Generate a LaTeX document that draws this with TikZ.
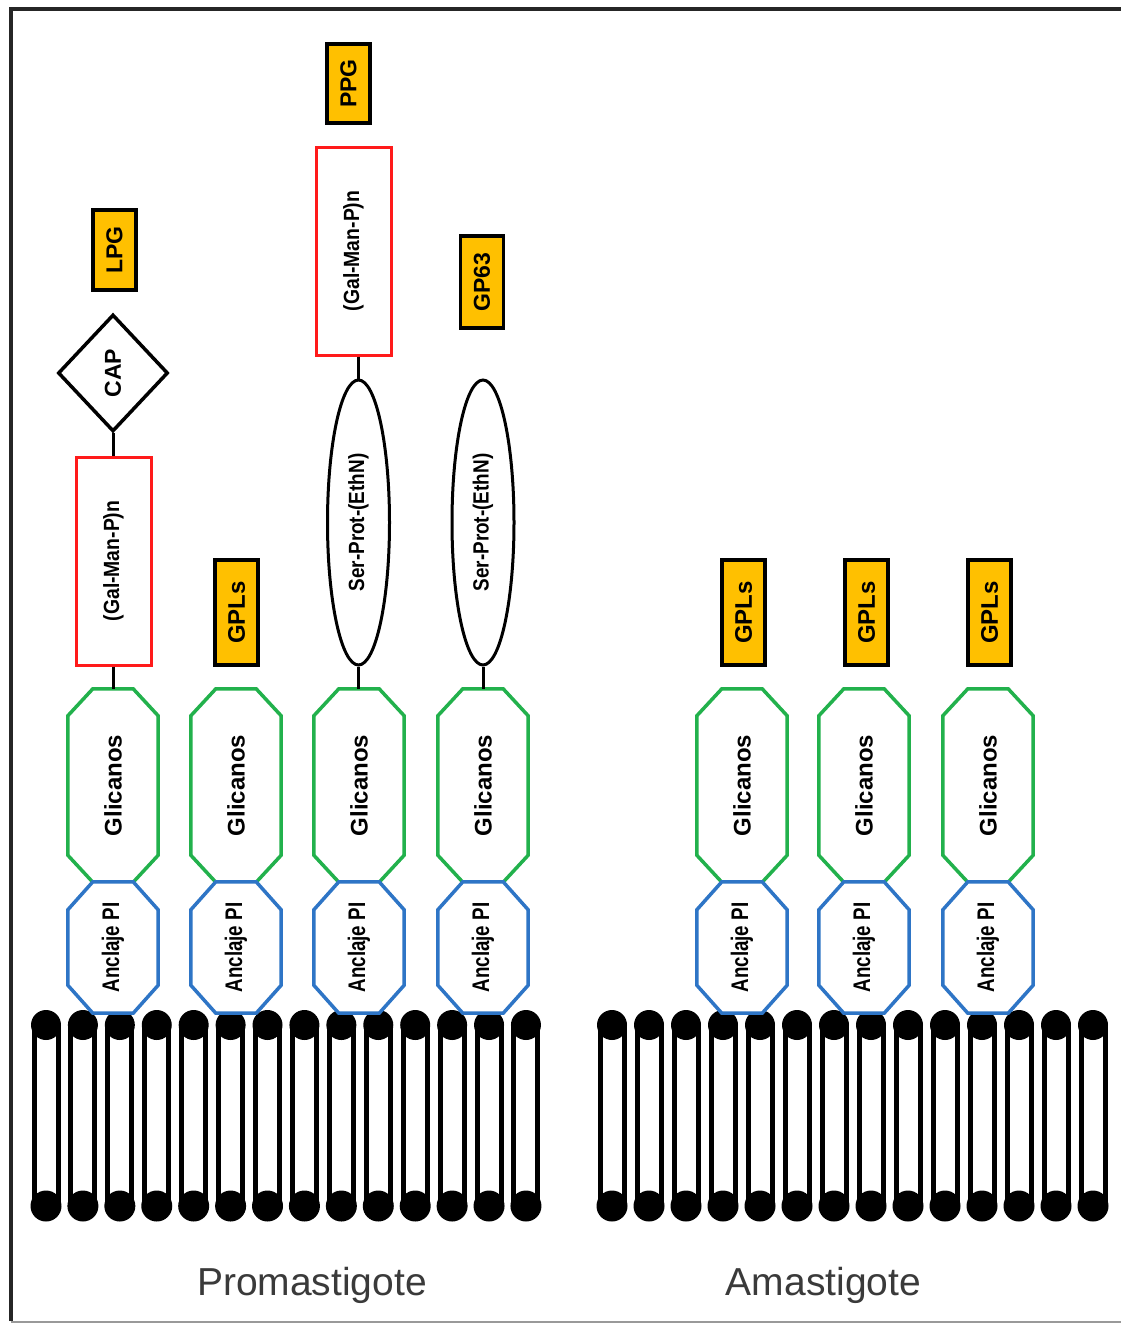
\documentclass[tikz,border=0pt]{standalone}
\usepackage{fontspec}
\setmainfont{Liberation Sans}
\usepackage{graphicx}
\usetikzlibrary{shapes.geometric}

\definecolor{tagyellow}{HTML}{FFC000}
\definecolor{glygreen}{HTML}{22B14C}
\definecolor{anchorblue}{HTML}{2E75C6}
\definecolor{polyred}{HTML}{FF1A1A}
\definecolor{labelgray}{HTML}{3A3A3A}

\pgfdeclarelayer{lipidlayer}
\pgfdeclarelayer{shapelayer}
\pgfsetlayers{lipidlayer,shapelayer,main}

% vertical text, optionally squeezed along its length
\newcommand\vlabel[2][1]{\rotatebox{90}{\scalebox{#1}[1]{#2}}}
\newcommand\tagfont{\fontsize{23}{25}\selectfont\bfseries}
\newcommand\glyfont{\fontsize{24}{26}\selectfont\bfseries}
\newcommand\thinfont{\fontsize{22}{24}\selectfont\bfseries}

% chamfered outline around a named node: node, colour, vertical chamfer
\newcommand\octagonoutline[3]{%
  \begin{pgfonlayer}{shapelayer}
  \draw[#2, line width=3.5pt, fill=white, line join=miter]
    ([xshift=25pt]#1.north west) -- ([xshift=-25pt]#1.north east)
    -- ([yshift=-#3]#1.north east) -- ([yshift=#3]#1.south east)
    -- ([xshift=-25pt]#1.south east) -- ([xshift=25pt]#1.south west)
    -- ([yshift=#3]#1.south west) -- ([yshift=-#3]#1.north west) -- cycle;
  \end{pgfonlayer}}

\tikzset{
  tag/.style={draw=black, line width=3.5pt, fill=tagyellow, inner sep=0pt,
    minimum width=43pt, font=\tagfont},
  glybox/.style={inner sep=0pt, minimum width=90pt, minimum height=193pt, font=\glyfont},
  pibox/.style={inner sep=0pt, minimum width=90pt, minimum height=131pt, font=\glyfont},
  redbox/.style={draw=polyred, line width=3pt, fill=white, inner sep=0pt,
    minimum width=75pt, minimum height=208pt, font=\thinfont},
  oval/.style={ellipse, draw=black, line width=3pt, fill=white, inner sep=0pt,
    minimum width=62pt, minimum height=285pt, font=\thinfont},
  link/.style={line width=3pt, black},
  stagelabel/.style={anchor=base, text=labelgray, font=\fontsize{39}{42}\selectfont},
}

\begin{document}
\begin{tikzpicture}[x=1pt, y=-1pt]
\useasboundingbox (0,0) rectangle (1121,1323);

% frame
\draw[line width=4pt, black!85] (10.5,1321) -- (10.5,8.5) -- (1121,8.5);
\draw[line width=2pt, black!40] (10.5,1321.5) -- (1121,1321.5);

% membrane lipids
\begin{pgfonlayer}{lipidlayer}
\foreach \s/\d in {46/36.92, 612/37} {
  \foreach \i in {0,...,13} {
    \pgfmathsetmacro\xx{\s+\d*\i}
    \draw[line width=5pt, fill=white] ({\xx-12},1025) rectangle ({\xx+12},1206);
    \fill ({\xx},1025) circle[radius=15pt];
    \fill ({\xx},1206) circle[radius=15.5pt];
  }
}
\end{pgfonlayer}

% glycan and PI anchor blocks
\foreach \n/\x in {1/113, 2/236, 3/359, 4/483, 5/742, 6/864, 7/988} {
  \node[glybox] (g\n) at (\x,785.5) {\vlabel{Glicanos}};
  \node[pibox] (a\n) at (\x,947.5) {\vlabel[0.78]{Anclaje PI}};
  \octagonoutline{g\n}{glygreen}{27pt}
  \octagonoutline{a\n}{anchorblue}{28pt}
}

% LPG
\node[tag, minimum height=80pt] (lpg) at (114.5,250) {\vlabel{LPG}};
\node[diamond, draw=black, line width=3.5pt, fill=white, inner sep=0pt,
  minimum width=110pt, minimum height=117pt, font=\tagfont] (cap) at (113,373) {\vlabel{CAP}};
\node[redbox] (r1) at (113.5,561) {\vlabel[0.88]{(Gal-Man-P)n}};
\draw[link] (cap.south) -- (cap.south |- r1.north);
\draw[link] (g1.north |- r1.south) -- (g1.north);

% GPLs
\foreach \n/\x in {2/236.5, 5/743.5, 6/866.5, 7/989.5} {
  \node[tag, minimum height=105pt, font=\fontsize{24}{26}\selectfont\bfseries] (gpl\n) at (\x,612.5) {\vlabel{GPLs}};
}

% PPG
\node[tag, minimum height=79pt] (ppg) at (348.5,83.5) {\vlabel{PPG}};
\node[redbox] (r3) at (353.5,251) {\vlabel[0.88]{(Gal-Man-P)n}};
\node[oval] (e3) at (358.5,522.5) {\vlabel[0.86]{Ser-Prot-(EthN)}};
\draw[link] (e3.north |- r3.south) -- (e3.north);
\draw[link] (e3.south) -- (e3.south |- g3.north);

% GP63
\node[tag, minimum height=92pt] (gp63) at (482,282) {\vlabel{GP63}};
\node[oval] (e4) at (483,522.5) {\vlabel[0.86]{Ser-Prot-(EthN)}};
\draw[link] (e4.south) -- (e4.south |- g4.north);

% stage names
\node[stagelabel] (pro) at (312,1295) {Promastigote};
\node[stagelabel] (ama) at (823.5,1295) {Amastigote};
\end{tikzpicture}
\end{document}
